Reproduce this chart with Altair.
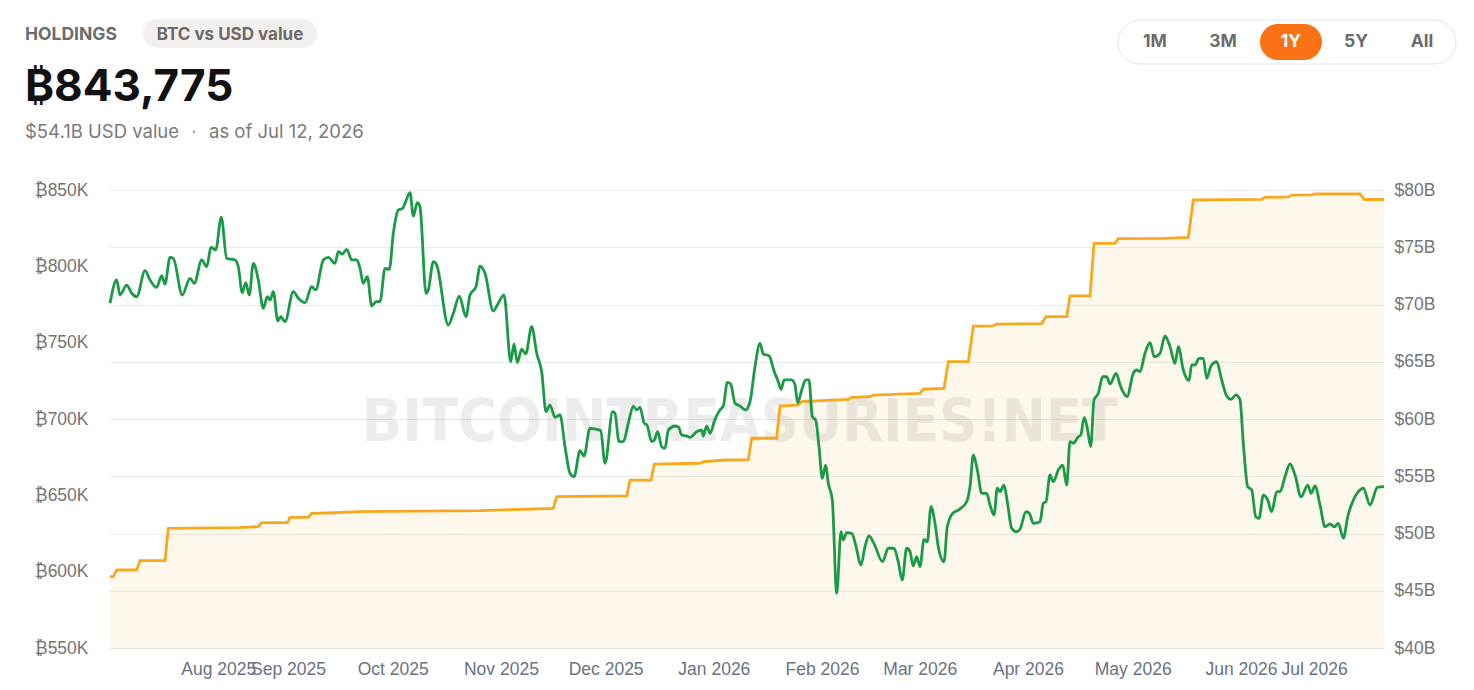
import json

import altair as alt
import pandas as pd

START = pd.Timestamp("2025-07-12")

# Bitcoin held, (days since 12 Jul 2025, BTC) -- stepwise purchases
BTC_STEPS = [
    (0, 596700), (0.95, 596700), (1.92, 601100), (7.65, 601100), (8.60, 607200),
    (15.76, 607200), (16.70, 628400), (36.76, 628800), (42.49, 629500), (43.46, 632100),
    (50.91, 632100), (51.57, 635600), (56.81, 635600), (57.79, 638200), (64.46, 638600),
    (71.63, 639300), (106.01, 640000), (127.0, 641500), (127.98, 649100), (148.03, 649600),
    (148.98, 660000), (155.0, 660000), (155.95, 670500), (169.04, 671000), (169.98, 672000),
    (176.2, 673150), (182.87, 673200), (183.84, 687400), (191.0, 687400), (191.95, 708500),
    (197.2, 709200), (198.17, 711400), (211.52, 712900), (212.50, 714200), (217.7, 714600),
    (218.7, 715600), (232.06, 716800), (233.0, 719500), (238.94, 720100), (240.17, 737600),
    (245.9, 737600), (247.34, 760900), (253.05, 761000), (254.04, 762200), (266.93, 762500),
    (268.17, 767000), (274.1, 767000), (275.04, 780600), (280.77, 780600), (281.92, 815100),
    (287.93, 815100), (288.88, 818100), (302.26, 818300), (308.93, 819000), (310.36, 843450),
    (329.96, 843900), (330.90, 845200), (337.58, 845500), (338.55, 846700), (344.28, 846800),
    (345.24, 847400), (358.14, 847400), (359.37, 843775), (365, 843775),
]

# USD value of the holdings, (days since 12 Jul 2025, $ billions)
USD_VALUE = [
    (0, 70.1), (1.92, 72.14), (2.87, 70.83), (4.78, 71.70), (6.22, 70.98), (7.65, 70.68),
    (10.03, 72.95), (11.46, 72.14), (13.38, 71.50), (14.81, 72.52), (15.76, 71.79),
    (17.19, 74.12), (18.14, 74.03), (20.71, 70.83), (22.92, 72.29), (24.15, 71.85),
    (26.27, 73.89), (27.70, 73.30), (28.94, 75.0), (30.28, 74.76), (31.89, 77.62),
    (33.43, 74.03), (35.81, 73.89), (36.76, 73.30), (37.90, 71.03), (38.88, 71.90),
    (39.91, 70.83), (41.06, 73.60), (42.49, 72.14), (43.92, 69.67), (45.07, 70.68),
    (45.84, 70.39), (46.79, 71.12), (48.05, 68.58), (48.91, 68.93), (50.14, 68.50),
    (52.52, 71.12), (53.95, 70.54), (55.87, 70.16), (57.79, 71.55), (58.93, 71.27),
    (61.11, 73.89), (62.54, 74.12), (64.46, 73.60), (65.41, 74.61), (66.55, 74.41),
    (67.81, 74.82), (69.25, 73.89), (70.68, 73.89), (71.63, 73.16), (72.57, 71.85),
    (73.72, 72.43), (74.98, 69.87), (76.21, 70.25), (77.36, 70.25), (78.79, 73.16),
    (80.02, 73.07), (81.17, 76.22), (82.60, 78.25), (83.86, 78.40), (84.52, 78.84),
    (85.95, 79.77), (86.90, 77.73), (88.04, 78.89), (88.82, 78.54), (90.53, 70.98),
    (91.19, 71.27), (92.63, 73.74), (93.60, 73.45), (96.92, 68.21), (98.36, 69.23),
    (100.08, 70.74), (101.99, 68.93), (103.14, 70.83), (104.86, 71.55), (106.01, 73.36),
    (107.44, 72.72), (109.82, 69.43), (110.96, 69.96), (112.88, 70.83), (114.81, 65.0),
    (115.75, 66.55), (116.70, 64.92), (117.95, 66.09), (119.10, 65.68), (120.82, 68.06),
    (122.25, 65.74), (123.68, 64.13), (124.92, 60.64), (126.06, 61.22), (127.49, 60.15),
    (128.93, 60.35), (130.36, 57.58), (131.79, 55.26), (132.94, 54.96), (134.66, 57.23),
    (135.80, 56.77), (137.52, 59.19), (139.44, 59.10), (140.59, 58.98), (141.82, 56.13),
    (144.02, 60.64), (144.68, 60.49), (145.83, 58.02), (147.06, 58.02), (148.49, 59.62),
    (149.92, 61.13), (150.89, 60.79), (151.84, 61.02), (153.07, 59.62), (153.85, 59.47),
    (155.20, 58.02), (155.95, 58.16), (156.92, 58.89), (158.06, 57.58), (159.01, 57.44),
    (159.95, 59.04), (161.87, 59.39), (162.82, 59.33), (163.79, 58.60), (165.22, 58.51),
    (166.17, 58.40), (168.09, 58.89), (169.52, 59.04), (169.98, 58.51), (170.95, 59.39),
    (171.90, 58.75), (173.33, 59.97), (174.76, 60.79), (175.71, 61.13), (176.86, 63.20),
    (177.83, 63.06), (179.06, 61.37), (180.49, 61.13), (182.13, 60.79), (183.36, 61.51),
    (184.79, 64.57), (186.22, 66.61), (187.17, 65.68), (188.80, 65.53), (190.32, 64.13),
    (191.46, 63.26), (192.24, 62.59), (193.18, 63.41), (195.30, 63.41), (196.25, 62.97),
    (197.02, 61.42), (198.17, 62.53), (199.32, 63.41), (200.26, 63.41), (201.21, 60.20),
    (202.18, 59.91), (203.13, 57.58), (204.07, 54.82), (205.05, 55.98), (205.79, 54.38),
    (206.94, 52.92), (208.20, 44.78), (209.43, 50.16), (210.09, 49.43), (211.06, 50.07),
    (212.50, 50.02), (213.64, 48.99), (215.16, 47.25), (216.31, 48.85), (217.45, 49.78),
    (218.86, 49.14), (221.35, 47.54), (222.96, 48.71), (224.59, 48.71), (225.82, 47.54),
    (226.97, 45.94), (228.23, 48.71), (229.20, 48.41), (230.14, 47.16), (231.12, 47.97),
    (232.06, 47.10), (233.21, 49.49), (234.15, 49.28), (235.22, 52.34), (236.36, 50.89),
    (237.30, 48.85), (238.94, 47.54), (239.88, 50.59), (241.43, 51.76), (243.04, 52.05),
    (245.45, 52.78), (246.39, 54.09), (247.34, 56.86), (248.49, 55.55), (249.75, 53.51),
    (251.18, 53.51), (252.12, 52.49), (253.27, 51.61), (254.22, 53.95), (254.99, 53.65),
    (256.13, 54.23), (257.08, 52.78), (258.34, 50.45), (259.77, 50.16), (260.72, 50.37),
    (262.43, 51.90), (263.38, 51.76), (264.53, 50.89), (266.45, 51.03), (267.39, 52.64),
    (268.17, 52.78), (269.31, 55.11), (270.26, 54.52), (271.69, 55.55), (272.95, 55.98),
    (274.10, 54.23), (275.04, 58.02), (275.99, 57.88), (277.42, 58.45), (278.11, 58.60),
    (279.14, 60.15), (280.00, 59.19), (280.98, 57.58), (281.92, 61.66), (283.15, 62.24),
    (284.41, 63.69), (285.56, 63.69), (286.50, 63.06), (288.22, 63.99), (289.57, 62.82),
    (291.38, 61.95), (293.17, 63.99), (294.15, 64.28), (295.09, 64.13), (296.53, 65.74),
    (297.96, 66.67), (299.19, 65.44), (300.82, 65.74), (302.26, 67.25), (303.69, 66.32),
    (305.12, 64.86), (306.07, 66.32), (307.50, 64.28), (309.13, 63.35), (309.90, 64.72),
    (310.85, 64.72), (312.00, 65.30), (313.23, 65.30), (314.20, 63.55), (315.44, 64.63),
    (317.07, 65.00), (318.50, 63.41), (319.94, 62.01), (321.17, 61.72), (322.60, 62.10),
    (323.75, 61.66), (324.69, 57.88), (325.95, 54.09), (327.10, 53.80), (328.25, 51.47),
    (329.19, 51.32), (330.43, 53.36), (331.69, 52.92), (332.83, 51.90), (334.27, 53.65),
    (335.21, 53.65), (336.64, 54.96), (338.08, 56.07), (339.51, 55.11), (341.23, 53.21),
    (343.15, 54.23), (344.09, 53.51), (345.24, 54.15), (346.67, 52.49), (348.10, 50.59),
    (349.53, 50.83), (350.77, 50.59), (351.91, 50.89), (353.35, 49.58), (354.61, 51.47),
    (356.21, 52.92), (357.65, 53.65), (359.08, 53.95), (361.00, 52.49), (363.09, 54.03),
    (365, 54.1),
]

# Month ticks on the time axis and their labels
TICK_DATES = ["2025-08-12", "2025-09-01", "2025-10-01", "2025-11-01", "2025-12-01",
              "2026-01-01", "2026-02-01", "2026-03-01", "2026-04-01", "2026-05-01",
              "2026-06-01", "2026-06-22"]
TICK_LABELS = ["Aug 2025", "Sep 2025", "Oct 2025", "Nov 2025", "Dec 2025", "Jan 2026",
               "Feb 2026", "Mar 2026", "Apr 2026", "May 2026", "Jun 2026", "Jul 2026"]
BTC_TICKS = [550000, 600000, 650000, 700000, 750000, 800000, 850000]
USD_TICKS = [40, 45, 50, 55, 60, 65, 70, 75, 80]
RANGES = ["1M", "3M", "1Y", "5Y", "All"]
ACTIVE_RANGE = "1Y"
AS_OF = "Jul 12, 2026"

W, H = 1274, 458
UI_FONT = "Inter"
AXIS_FONT = "Liberation Sans"
ORANGE = "#f6a91f"
GREEN = "#1b9a45"


def to_date(days):
    return START + pd.to_timedelta(days, unit="D")


btc = pd.DataFrame(BTC_STEPS, columns=["day", "btc"])
btc["date"] = to_date(btc["day"])
usd = pd.DataFrame(USD_VALUE, columns=["day", "usd"])
usd["date"] = to_date(usd["day"])


def dt(s):
    t = pd.Timestamp(s)
    return alt.DateTime(year=t.year, month=t.month, date=t.day)


label_map = json.dumps(dict(zip(TICK_DATES, TICK_LABELS)))
x_enc = alt.X(
    "date:T",
    title=None,
    scale=alt.Scale(domain=[dt("2025-07-12"), dt("2026-07-12")], nice=False),
    axis=alt.Axis(
        values=[dt(d) for d in TICK_DATES],
        labelExpr=f"{label_map}[timeFormat(datum.value, '%Y-%m-%d')]",
        grid=False, ticks=False, domain=True, domainColor="#dedede",
        labelFont=AXIS_FONT, labelFontSize=17.5, labelColor="#6b7280",
        labelPadding=12, labelOverlap=False, labelFlush=False,
    ),
)

btc_axis = alt.Axis(
    orient="left", values=BTC_TICKS,
    labelExpr="'₿' + format(datum.value / 1000, 'd') + 'K'",
    grid=False, ticks=False, domain=False,
    labelFont=AXIS_FONT, labelFontSize=17.5, labelColor="#757575", labelPadding=22,
)
usd_axis = alt.Axis(
    orient="right", values=USD_TICKS,
    labelExpr="'$' + datum.value + 'B'",
    grid=True, gridColor="#eaeaea", gridWidth=1, ticks=False, domain=False,
    labelFont=AXIS_FONT, labelFontSize=17.5, labelColor="#757575", labelPadding=10,
)
btc_scale = alt.Scale(domain=[BTC_TICKS[0], BTC_TICKS[-1]], zero=False, nice=False)
usd_scale = alt.Scale(domain=[USD_TICKS[0], USD_TICKS[-1]], zero=False, nice=False)

area = alt.Chart(btc).mark_area(color=ORANGE, opacity=0.09).encode(
    x=x_enc,
    y=alt.Y("btc:Q", title=None, scale=btc_scale, axis=btc_axis),
    y2=alt.datum(BTC_TICKS[0]),
)
btc_line = alt.Chart(btc).mark_line(color=ORANGE, strokeWidth=2.8).encode(
    x=x_enc,
    y=alt.Y("btc:Q", title=None, scale=btc_scale, axis=btc_axis),
)


def one(text):
    return alt.Data(values=[{"t": text}])


def label(text, x, y, size, color, weight="normal", align="left",
          baseline="alphabetic", font=UI_FONT, opacity=1.0):
    return alt.Chart(one(text)).mark_text(
        align=align, baseline=baseline, fontSize=size, fontWeight=weight,
        color=color, font=font, opacity=opacity,
    ).encode(x=alt.value(x), y=alt.value(y), text="t:N")


def pill(x1, x2, y1, y2, radius, fill, stroke=None):
    props = dict(cornerRadius=radius, fill=fill)
    if stroke:
        props.update(stroke=stroke, strokeWidth=1)
    return alt.Chart(one("")).mark_rect(**props).encode(
        x=alt.value(x1), x2=alt.value(x2), y=alt.value(y1), y2=alt.value(y2)
    )


watermark = label("BITCOINTREASURIES!NET", 630, 233, 59, "#000000", weight="bold",
                  align="center", baseline="middle",
                  font="Liberation Sans Narrow, DejaVu Sans Condensed, sans-serif",
                  opacity=0.07)

btc_layer = alt.layer(area, watermark, btc_line)

usd_line = alt.Chart(usd).mark_line(color=GREEN, strokeWidth=2.8,
                                    interpolate="monotone").encode(
    x=x_enc,
    y=alt.Y("usd:Q", title=None, scale=usd_scale, axis=usd_axis),
)

# Header block above the plot
latest_btc = BTC_STEPS[-1][1]
latest_usd = USD_VALUE[-1][1]
header = [
    label("HOLDINGS", -85, -150, 17.5, "#6b6b6b", weight="bold"),
    pill(33, 207, -171, -142, 14.5, "#f1f0ef"),
    label("BTC vs USD value", 120, -150, 17, "#6e6966", weight="bold", align="center"),
    label(f"₿{latest_btc:,}", -85, -89, 44, "#111111", weight="bold"),
    label(f"${latest_usd}B USD value", -85, -52, 18.5, "#7a7a7a"),
    label("·", 84, -52, 18.5, "#9a9a9a", align="center"),
    label(f"as of {AS_OF}", 99, -52, 18.5, "#7a7a7a"),
    pill(1008, 1346, -170, -126, 22, "#ffffff", stroke="#e4e4e4"),
]
centers = [1045, 1113, 1181, 1246, 1312]
for name, cx in zip(RANGES, centers):
    if name == ACTIVE_RANGE:
        header.append(pill(cx - 31, cx + 31, -166, -130, 18, "#f97316"))
        header.append(label(name, cx, -148, 17.5, "#ffffff", weight="bold",
                            align="center", baseline="middle"))
    else:
        header.append(label(name, cx, -148, 17.5, "#6b6b6b", weight="bold",
                            align="center", baseline="middle"))

chart = alt.layer(btc_layer, usd_line, *header).resolve_scale(
    y="independent"
).properties(
    width=W,
    height=H,
    autosize=alt.AutoSizeParams(type="none"),
    padding={"left": 110, "top": 190, "right": 90, "bottom": 42},
    background="#ffffff",
).configure_view(stroke=None)

chart.save("out.html", embed_options={"renderer": "svg", "actions": False})
